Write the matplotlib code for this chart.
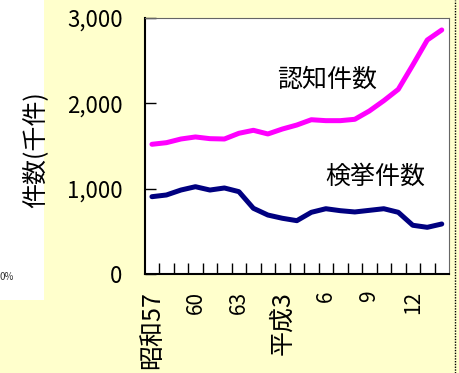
import matplotlib
matplotlib.use("Agg")
import matplotlib.pyplot as plt
from matplotlib.lines import Line2D

plt.rcParams['font.family'] = ['Noto Sans CJK JP', 'DejaVu Sans']

# 年次（昭和57年〜平成14年）
years = ['昭和57', '58', '59', '60', '61', '62', '63', '平成元', '2', '3',
         '4', '5', '6', '7', '8', '9', '10', '11', '12', '13', '14']
tick_labels = ['昭和57', '60', '63', '平成3', '6', '9', '12']
tick_index = [0, 3, 6, 9, 12, 15, 18]

# 刑法犯 認知件数・検挙件数（千件）
ninchi = [1520, 1539, 1582, 1606, 1586, 1582, 1649, 1684, 1641, 1699,
          1746, 1808, 1797, 1797, 1813, 1910, 2031, 2164, 2449, 2742, 2860]
kenkyo = [906, 926, 984, 1023, 984, 1008, 965, 770, 691, 653,
          625, 723, 765, 742, 727, 746, 765, 723, 571, 547, 586]

W, H = 459, 373
fig = plt.figure(figsize=(W / 100, H / 100), dpi=100, facecolor='#FFFFCC')


def fx(px):
    return px / W


def fy(py):
    return 1 - py / H


# neighbouring panel (white) on the left edge
fig.patches.append(plt.Rectangle((0, fy(300)), fx(44), 300 / H,
                                 transform=fig.transFigure, facecolor='white',
                                 edgecolor='none', zorder=0))
fig.text(fx(0), fy(277), '0%', ha='left', va='center', fontsize=7,
         color='#333333')

ax = fig.add_axes([fx(144.7), fy(274), fx(449 - 144.7), (274 - 18) / H])
ax.set_facecolor('white')

x = list(range(len(years)))
ax.plot(x, ninchi, color='#FF00FF', lw=3.6, solid_capstyle='round',
        solid_joinstyle='round')
ax.plot(x, kenkyo, color='#000080', lw=3.6, solid_capstyle='round',
        solid_joinstyle='round')

ax.set_xlim(-0.5, len(years) - 0.5)
ax.set_ylim(0, 3000)

ax.set_yticks([0, 1000, 2000, 3000])
ax.set_yticklabels(['0', '1,000', '2,000', '3,000'], fontsize=16)
ax.tick_params(axis='y', direction='in', length=8, width=1, pad=16)

ax.set_xticks([i + 0.5 for i in range(len(years) - 1)])
ax.set_xticklabels([])
ax.tick_params(axis='x', which='major', direction='in', length=8, width=1)
ax.set_xticks(tick_index, minor=True)
ax.set_xticklabels(tick_labels, minor=True, rotation=90, fontsize=15,
                   va='top')
ax.tick_params(axis='x', which='minor', length=0, pad=12)
for lab in ax.get_xticklabels(minor=True):
    if not lab.get_text().isdigit():
        lab.set_fontsize(18)

ax.spines['left'].set_linewidth(1.5)
ax.spines['bottom'].set_linewidth(1.5)
ax.spines['top'].set_color('#666666')
ax.spines['right'].set_color('#666666')

fig.text(fx(327), fy(80), '認知件数', fontsize=18, ha='center', va='center')
fig.text(fx(375), fy(177), '検挙件数', fontsize=18, ha='center', va='center')

fig.text(fx(35), fy(150), '件数(千件)', rotation=90, fontsize=18,
         ha='center', va='center')

fig.add_artist(Line2D([fx(454.5), fx(454.5)], [0, 1], transform=fig.transFigure,
                      color='black', lw=1, linestyle=(0, (1, 1))))

fig.savefig('out.png', dpi=100, facecolor=fig.get_facecolor())
